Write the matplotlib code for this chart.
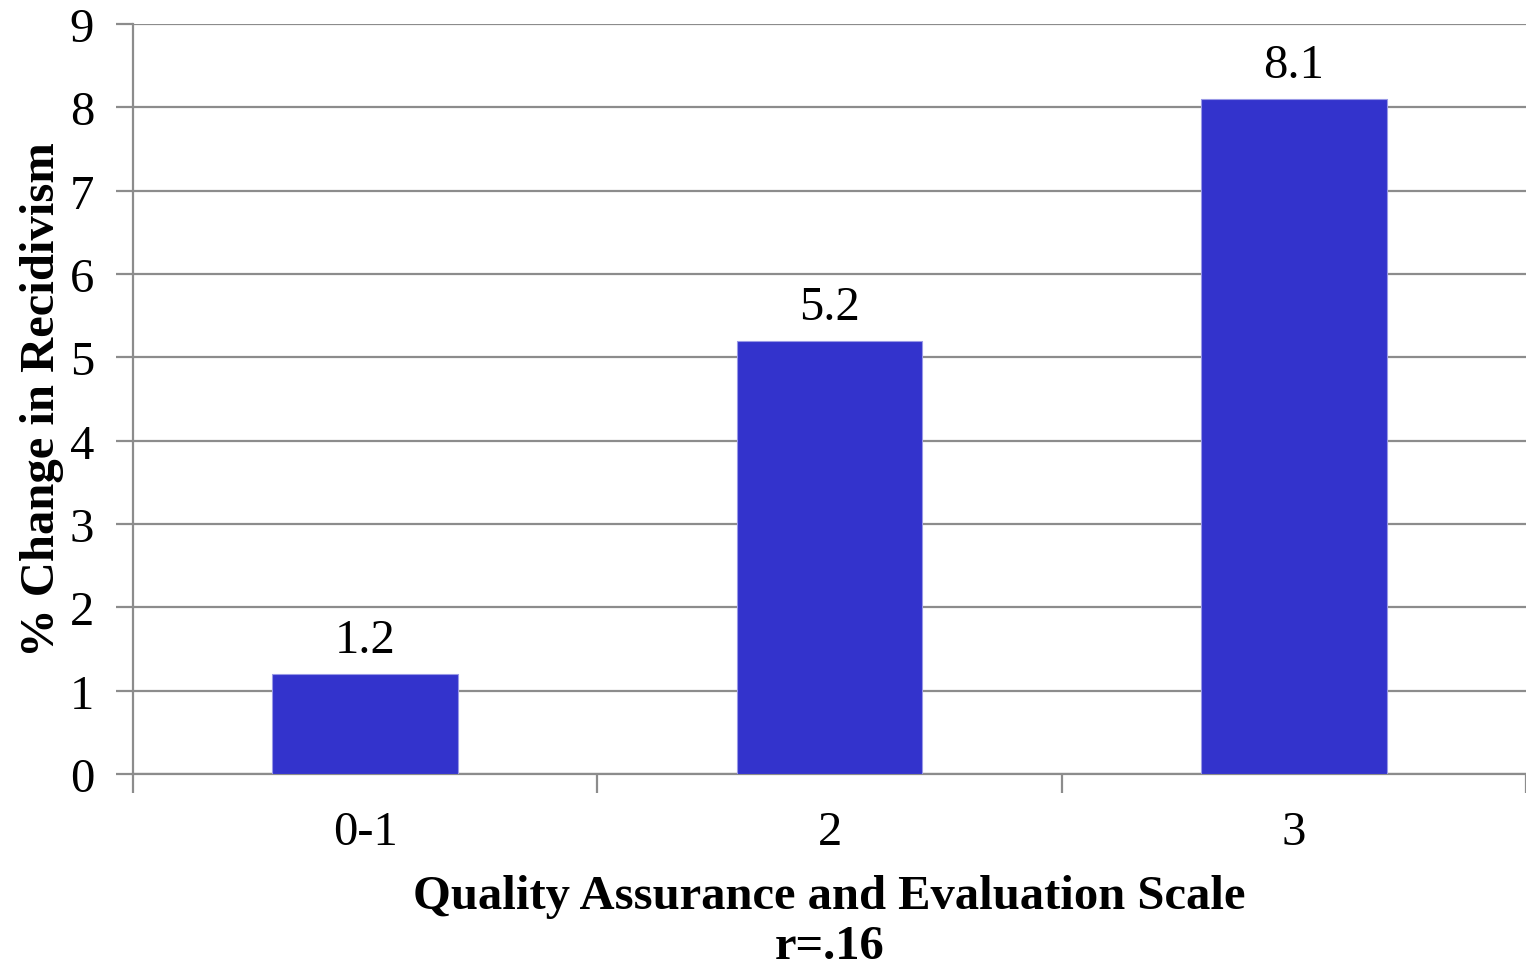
import matplotlib
matplotlib.use('Agg')
import matplotlib.pyplot as plt
import numpy as np

categories = ['0-1', '2', '3']
values = [1.2, 5.2, 8.1]
yticks = [0, 1, 2, 3, 4, 5, 6, 7, 8, 9]

plt.rcParams['font.family'] = ['Liberation Serif', 'DejaVu Serif']

fig = plt.figure(figsize=(15.26, 9.7), dpi=100)
ax = fig.add_axes([133/1526, 1 - 775/970, 1393/1526, 750/970])

x = np.arange(len(categories))
ax.bar(x, values, width=0.4, color='#3333CC', edgecolor='#9999E6', linewidth=0.8, zorder=3)
for xi, v in zip(x, values):
    ax.text(xi, v + 0.14, '%.1f' % v, ha='center', va='bottom', fontsize=35)

ax.set_xlim(-0.5, 2.5)
ax.set_ylim(0, 9)
ax.set_yticks(yticks)
ax.set_yticklabels([str(t) for t in yticks], fontsize=35)
ax.grid(axis='y', color='#8c8c8c', linewidth=1.6, zorder=0)

ax.set_xticks(x)
ax.set_xticklabels(categories, fontsize=35)
ax.set_xticks(np.arange(-0.5, 3, 1), minor=True)
ax.tick_params(axis='x', which='major', length=0, pad=26)
ax.tick_params(axis='x', which='minor', length=14, width=1.6, color='#8c8c8c')
ax.tick_params(axis='y', length=12, width=1.6, color='#8c8c8c', pad=16)

for s in ['top', 'right']:
    ax.spines[s].set_visible(False)
for s in ['left', 'bottom']:
    ax.spines[s].set_color('#8c8c8c')
    ax.spines[s].set_linewidth(1.6)

ax.set_ylabel('% Change in Recidivism', fontsize=35, fontweight='bold', labelpad=4)
ax.set_xlabel('Quality Assurance and Evaluation Scale\nr=.16', fontsize=35,
              fontweight='bold', linespacing=1.2, labelpad=14)

fig.savefig('out.png', dpi=100)
